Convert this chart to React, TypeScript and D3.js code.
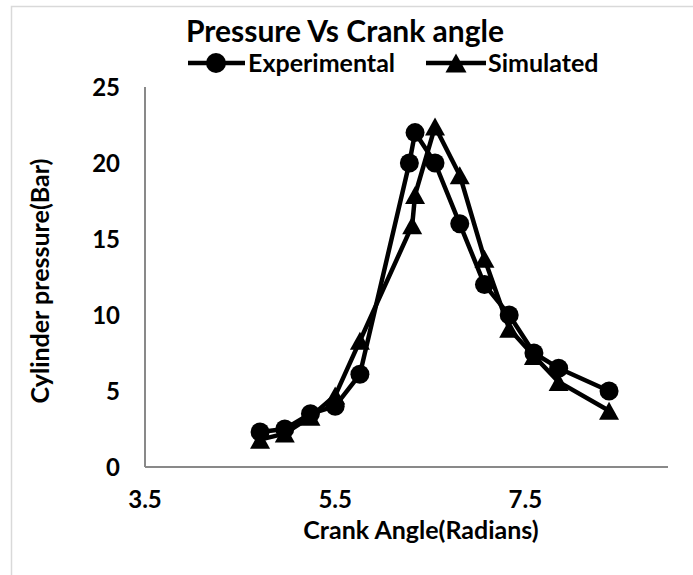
import React from 'react';
import * as d3 from "d3";

// crank angle (radians) and pressure (bar)
const expAngle = [4.71, 4.97, 5.24, 5.50, 5.76, 6.28, 6.34, 6.55, 6.81, 7.07, 7.33, 7.59, 7.85, 8.38];
const expPressure = [2.3, 2.5, 3.5, 4.0, 6.1, 20, 22, 20, 16, 12, 10, 7.5, 6.5, 5.0];
const simAngle = [4.71, 4.97, 5.24, 5.50, 5.76, 6.31, 6.34, 6.55, 6.81, 7.07, 7.33, 7.59, 7.85, 8.38];
const simPressure = [1.8, 2.2, 3.3, 4.7, 8.3, 15.9, 17.9, 22.4, 19.2, 13.7, 9.1, 7.3, 5.6, 3.7];

const xTicks = [3.5, 5.5, 7.5];
const yTicks = [0, 5, 10, 15, 20, 25];

const W = 693;
const H = 575;
const plot = { left: 145, right: 668, top: 87, bottom: 467 };
const font = "Lato, 'Noto Sans', sans-serif";

const triPath = (w: number, h: number) =>
    `M0,${-h / 2}L${w / 2},${h / 2}L${-w / 2},${h / 2}Z`;

export default function App() {
    const xScale = d3.scaleLinear().domain([3.5, 9]).range([plot.left, plot.right]);
    const yScale = d3.scaleLinear().domain([0, 25]).range([plot.bottom, plot.top]);

    const expData = expAngle.map((a, i) => [a, expPressure[i]] as [number, number]);
    const simData = simAngle.map((a, i) => [a, simPressure[i]] as [number, number]);

    const line = d3.line<[number, number]>()
        .x((d) => xScale(d[0]))
        .y((d) => yScale(d[1]));

    return (
        <svg width={W} height={H} style={{ position: "absolute", left: 0, top: 0, background: "#fff" }}
            fontFamily={font} fontWeight="bold">
            {/* chart area border */}
            <rect x={11.5} y={6.5} width={900} height={800} fill="none" stroke="#d9d9d9" strokeWidth={1.5} />

            {/* title */}
            <text x={345} y={42} textAnchor="middle" fontSize={30}>Pressure Vs Crank angle</text>

            {/* legend */}
            <g>
                <line x1={188} x2={245} y1={63} y2={63} stroke="#000" strokeWidth={4.5} />
                <circle cx={216} cy={63} r={10} fill="#000" />
                <text x={248} y={63} dy="0.36em" fontSize={25}>Experimental</text>
                <line x1={426} x2={486} y1={63} y2={63} stroke="#000" strokeWidth={4.5} />
                <path d={triPath(21, 19)} transform="translate(456,63)" fill="#000" />
                <text x={488} y={63} dy="0.36em" fontSize={25}>Simulated</text>
            </g>

            {/* axes */}
            <line x1={plot.left} x2={plot.left} y1={plot.top} y2={plot.bottom} stroke="#898989" strokeWidth={2} />
            <line x1={plot.left} x2={plot.right} y1={plot.bottom} y2={plot.bottom} stroke="#898989" strokeWidth={2} />

            {yTicks.map((t) => (
                <text key={"y" + t} x={120} y={yScale(t)} dy="0.36em" textAnchor="end" fontSize={24}>{t}</text>
            ))}
            {xTicks.map((t) => (
                <text key={"x" + t} x={xScale(t)} y={499} dy="0.36em" textAnchor="middle" fontSize={24}>{t}</text>
            ))}

            <text x={421} y={530} dy="0.36em" textAnchor="middle" fontSize={25}>Crank Angle(Radians)</text>
            <text transform="translate(40,281) rotate(-90)" dy="0.36em" textAnchor="middle" fontSize={25}>Cylinder pressure(Bar)</text>

            {/* Experimental series */}
            <path d={line(expData) || ""} fill="none" stroke="#000" strokeWidth={4.5} strokeLinejoin="round" />
            {expData.map((d, i) => (
                <circle key={"e" + i} cx={xScale(d[0])} cy={yScale(d[1])} r={9.5} fill="#000" />
            ))}

            {/* Simulated series */}
            <path d={line(simData) || ""} fill="none" stroke="#000" strokeWidth={4.5} strokeLinejoin="round" />
            {simData.map((d, i) => (
                <path key={"s" + i} d={triPath(20, 18)}
                    transform={`translate(${xScale(d[0])},${yScale(d[1])})`} fill="#000" />
            ))}
        </svg>
    );
}
